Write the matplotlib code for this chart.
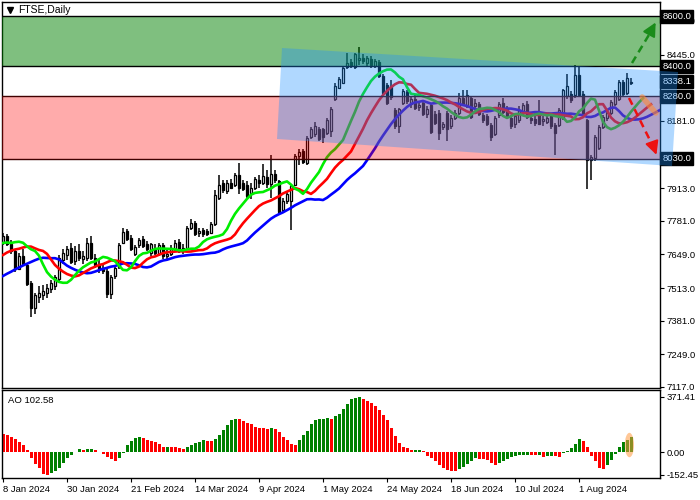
import matplotlib
matplotlib.use("Agg")
import matplotlib.pyplot as plt
import matplotlib.transforms as mtransforms
from matplotlib.patches import Polygon, Ellipse
import numpy as np

plt.rcParams["font.family"] = ["Liberation Sans", "DejaVu Sans"]

# FTSE daily candles, 8 Jan 2024 .. 20 Aug 2024
opens = [
    7695, 7722, 7690, 7660, 7590, 7640, 7605, 7532, 7435, 7478,
    7485, 7495, 7508, 7520, 7550, 7625, 7645, 7672, 7620, 7662,
    7628, 7635, 7695, 7635, 7605, 7595, 7580, 7490, 7560, 7597,
    7695, 7742, 7712, 7648, 7684, 7708, 7690, 7652, 7668, 7650,
    7685, 7640, 7650, 7668, 7698, 7662, 7675, 7752, 7775, 7735,
    7745, 7740, 7735, 7770, 7875, 7932, 7900, 7935, 7925, 7965,
    7932, 7925, 7895, 7915, 7945, 7935, 7958, 7930, 7968, 7940,
    7825, 7862, 7860, 7925, 8040, 8062, 8015, 8118, 8128, 8150,
    8148, 8135, 8140, 8268, 8315, 8335, 8398, 8418, 8398, 8425,
    8432, 8415, 8428, 8402, 8418, 8362, 8325, 8320, 8225, 8160,
    8255, 8298, 8250, 8268, 8238, 8255, 8210, 8245, 8210, 8215,
    8158, 8212, 8160, 8195, 8215, 8272, 8245, 8275, 8240, 8250,
    8205, 8200, 8165, 8130, 8205, 8255, 8232, 8195, 8168, 8185,
    8215, 8250, 8195, 8190, 8210, 8180, 8178, 8202, 8165, 8165,
    8195, 8280, 8290, 8285, 8365, 8290, 8185, 8025, 8035, 8075,
    8158, 8195, 8215, 8248, 8268, 8338, 8295, 8335,
]
highs = [
    7735, 7730, 7705, 7668, 7655, 7668, 7612, 7540, 7495, 7520,
    7525, 7530, 7545, 7565, 7645, 7668, 7680, 7692, 7682, 7690,
    7660, 7712, 7722, 7650, 7625, 7610, 7590, 7565, 7605, 7692,
    7752, 7750, 7725, 7685, 7715, 7722, 7700, 7695, 7690, 7695,
    7692, 7668, 7685, 7705, 7710, 7690, 7760, 7790, 7782, 7755,
    7752, 7750, 7778, 7905, 7965, 7945, 7945, 7948, 7972, 8015,
    7945, 7940, 7935, 7958, 7965, 8010, 7985, 8045, 7985, 7945,
    7875, 7898, 7930, 8048, 8068, 8070, 8120, 8158, 8178, 8158,
    8155, 8195, 8238, 8332, 8358, 8398, 8452, 8430, 8455, 8478,
    8448, 8440, 8440, 8430, 8425, 8370, 8335, 8345, 8232, 8235,
    8310, 8305, 8280, 8285, 8262, 8265, 8240, 8250, 8222, 8225,
    8178, 8220, 8205, 8225, 8292, 8305, 8305, 8282, 8268, 8258,
    8215, 8210, 8175, 8200, 8258, 8275, 8240, 8205, 8210, 8240,
    8255, 8262, 8215, 8218, 8265, 8200, 8205, 8212, 8175, 8232,
    8310, 8368, 8300, 8405, 8402, 8300, 8190, 8045, 8125, 8165,
    8205, 8225, 8265, 8305, 8345, 8345, 8375, 8352,
]
lows = [
    7685, 7680, 7650, 7578, 7585, 7600, 7522, 7398, 7410, 7455,
    7465, 7475, 7495, 7505, 7540, 7610, 7625, 7610, 7605, 7620,
    7608, 7620, 7625, 7595, 7575, 7568, 7475, 7470, 7550, 7590,
    7688, 7700, 7660, 7640, 7675, 7672, 7660, 7640, 7645, 7640,
    7630, 7628, 7642, 7660, 7652, 7650, 7670, 7745, 7722, 7718,
    7718, 7722, 7728, 7760, 7865, 7895, 7890, 7908, 7918, 7890,
    7900, 7870, 7870, 7905, 7915, 7925, 7915, 7875, 7935, 7805,
    7815, 7848, 7745, 7920, 8005, 8010, 8005, 8110, 8118, 8100,
    8092, 8125, 8118, 8262, 8308, 8328, 8390, 8395, 8390, 8405,
    8408, 8400, 8395, 8395, 8355, 8285, 8245, 8265, 8150, 8135,
    8245, 8250, 8235, 8225, 8220, 8200, 8195, 8130, 8165, 8105,
    8145, 8100, 8150, 8185, 8205, 8240, 8235, 8190, 8225, 8200,
    8175, 8160, 8100, 8122, 8195, 8210, 8190, 8150, 8155, 8175,
    8205, 8190, 8170, 8160, 8165, 8162, 8170, 8150, 8045, 8158,
    8185, 8270, 8255, 8275, 8280, 8200, 7910, 7945, 8020, 8065,
    8150, 8180, 8205, 8240, 8260, 8280, 8285, 8325,
]
closes = [
    7722, 7690, 7660, 7588, 7640, 7610, 7530, 7435, 7485, 7492,
    7503, 7512, 7532, 7556, 7632, 7652, 7668, 7618, 7662, 7632,
    7642, 7692, 7635, 7605, 7590, 7582, 7490, 7558, 7595, 7685,
    7738, 7708, 7668, 7678, 7706, 7680, 7668, 7688, 7655, 7685,
    7640, 7650, 7675, 7695, 7660, 7672, 7752, 7775, 7730, 7740,
    7728, 7730, 7770, 7885, 7925, 7905, 7932, 7915, 7965, 7912,
    7910, 7880, 7915, 7948, 7935, 7962, 7930, 7968, 7945, 7818,
    7862, 7890, 7922, 8040, 8058, 8018, 8112, 8150, 8162, 8108,
    8118, 8185, 8228, 8322, 8350, 8392, 8412, 8400, 8448, 8435,
    8420, 8432, 8405, 8420, 8362, 8295, 8255, 8278, 8160, 8228,
    8302, 8262, 8270, 8235, 8245, 8210, 8230, 8138, 8175, 8135,
    8170, 8150, 8195, 8215, 8272, 8250, 8285, 8198, 8255, 8210,
    8185, 8170, 8118, 8195, 8250, 8218, 8200, 8160, 8200, 8225,
    8245, 8198, 8185, 8175, 8170, 8190, 8195, 8160, 8135, 8225,
    8305, 8320, 8265, 8365, 8285, 8210, 8025, 8038, 8118, 8158,
    8198, 8212, 8258, 8298, 8338, 8288, 8355, 8338.1,
]

# Alligator lines before the first candle's data takes effect
jaw_head = [7561, 7570, 7578, 7587, 7595, 7603, 7610, 7617]
teeth_head = [7645, 7655, 7662, 7667, 7670]
lips_head = [7693, 7695, 7693]

# Awesome Oscillator histogram
ao_values = [
    123, 112, 101, 85, 69, 47, 13, -38, -83, -110,
    -146, -152.45, -139, -128, -105, -76, -43, -20, 2, 18,
    13, 18, 20, 13, 2, -11, -34, -49, -60, -38,
    -9, 47, 74, 92, 101, 92, 83, 74, 65, 52,
    32, 36, 34, 31, 25, 18, 34, 45, 58, 67,
    80, 77, 73, 85, 112, 146, 181, 213, 226, 224,
    208, 197, 186, 172, 164, 159, 157, 160, 158, 134,
    103, 78, 52, 47, 78, 112, 141, 186, 213, 220,
    222, 228, 225, 244, 258, 293, 325, 355, 365, 371.41,
    360, 345, 330, 308, 286, 251, 214, 164, 111, 61,
    35, 28, 11, 13, 15, 4, -26, -42, -63, -85,
    -107, -120, -125, -126, -116, -103, -81, -63, -42, -48,
    -50, -55, -72, -85, -76, -59, -48, -37, -28, -22,
    -20, -17, -22, -23, -17, -31, -28, -26, -30, -37,
    -9, 7, 24, 55, 90, 76, 33, -26, -63, -107,
    -114, -85, -55, -15, 37, 66, 83, 102.58,
]

date_labels = ["8 Jan 2024", "30 Jan 2024", "21 Feb 2024", "14 Mar 2024", "9 Apr 2024",
               "1 May 2024", "24 May 2024", "18 Jun 2024", "10 Jul 2024", "1 Aug 2024"]
# 8045 and 8313 sit fully under the level boxes in the original, so they are left out
price_ticks = [7117, 7249, 7381, 7513, 7649, 7781, 7913, 8181, 8445, 8581]
level_labels = [8600.0, 8400.0, 8338.1, 8280.0, 8030.0]


def smma(values, period, seed):
    out = []
    prev = seed
    for v in values:
        prev = (prev * (period - 1) + v) / period
        out.append(prev)
    return np.array(out)


o = np.array(opens, dtype=float)
h = np.array(highs, dtype=float)
l = np.array(lows, dtype=float)
c = np.array(closes, dtype=float)
n = len(c)
x = np.arange(n)
median = (h + l) / 2

jaw = np.concatenate([jaw_head, smma(median, 13, jaw_head[-1])])
teeth = np.concatenate([teeth_head, smma(median, 8, teeth_head[-1])])
lips = np.concatenate([lips_head, smma(median, 5, lips_head[-1])])

fig = plt.figure(figsize=(7, 5), dpi=100)
ax = fig.add_axes([2 / 700, 112 / 500, 658 / 700, 386 / 500])
ax2 = fig.add_axes([2 / 700, 22 / 500, 658 / 700, 88 / 500])

xmin, xmax = -0.25, 164.25

# candles
up = c >= o
ax.vlines(x, l, h, color="black", lw=1.1, zorder=2)
body_lo = np.minimum(o, c)
body_h = np.maximum(np.abs(c - o), 2)
ax.bar(x, body_h, bottom=body_lo, width=0.72,
       color=np.where(up, "white", "black"), edgecolor="black", lw=0.9, zorder=2.1)

# alligator
ax.plot(np.arange(len(jaw)), jaw, color="#0000ff", lw=1.9, zorder=3)
ax.plot(np.arange(len(teeth)), teeth, color="#ff0000", lw=1.9, zorder=3.1)
ax.plot(np.arange(len(lips)), lips, color="#00ee00", lw=1.9, zorder=3.2)

# zones
ax.axhspan(8400, 8600, color="#008000", alpha=0.5, lw=0, zorder=4)
ax.axhspan(8030, 8280, color="#ff0000", alpha=0.33, lw=0, zorder=4)
for lvl, col in [(8600, "black"), (8400, "black"), (8280, "#400000"), (8030, "#400000")]:
    ax.axhline(lvl, color=col, lw=1, zorder=5)

# price labels on the right
blend = mtransforms.blended_transform_factory(ax.transAxes, ax.transData)
for lvl in level_labels:
    ax.text(1.0035, lvl, f"{lvl:.1f}", transform=blend, ha="left", va="center",
            color="white", fontsize=6.8, zorder=6, clip_on=False,
            bbox=dict(boxstyle="square,pad=0.2", fc="black", ec="black"))

# channel (extends over the price scale)
channel = Polygon([(69.75, 8473), (168.75, 8377), (167.25, 8001), (68.5, 8109)],
                  closed=True, fc="#1e90ff", alpha=0.35, lw=0, zorder=7, clip_on=False)
ax.add_patch(channel)

# forecast arrows
ax.plot([157.25, 162.6], [8413, 8555], ls=(0, (3, 2)), color="#1a8c1a", lw=1.8, zorder=8)
ax.annotate("", xy=(163.5, 8585), xytext=(162.3, 8550), zorder=8,
            arrowprops=dict(arrowstyle="-|>,head_length=0.8,head_width=0.4", color="#1a8c1a", lw=1.5))
ax.plot([156.5, 162.8], [8273, 8070], ls=(0, (3, 2)), color="#ee1111", lw=1.8, zorder=8)
ax.annotate("", xy=(163.6, 8035), xytext=(162.6, 8080), zorder=8,
            arrowprops=dict(arrowstyle="-|>,head_length=0.8,head_width=0.4", color="#ee1111", lw=1.5))
ax.plot([159.8, 163.2], [8277, 8213], color="#ff8c3a", lw=4, alpha=0.6,
        solid_capstyle="round", zorder=8)

ax.set_xlim(xmin, xmax)
ax.set_ylim(7113, 8657)
ax.set_xticks([])
ax.yaxis.tick_right()
ax.set_yticks(price_ticks)
ax.set_yticklabels([f"{t:.1f}" for t in price_ticks])
ax.tick_params(axis="y", length=3, width=0.8, pad=2, labelsize=6.8, colors="black")
for s in ax.spines.values():
    s.set_linewidth(1.0)

ax.plot([0.012], [0.978], marker="v", color="black", ms=4.5, transform=ax.transAxes,
        clip_on=False, zorder=9)
ax.text(0.025, 0.978, "FTSE,Daily", transform=ax.transAxes, ha="left", va="center",
        fontsize=7.5, zorder=9)

# AO panel
ao = np.array(ao_values)
ao_colors = ["#ff0000"] + ["#008000" if d > 0 else "#ff0000" for d in np.diff(ao)]
ax2.bar(np.arange(len(ao)), ao, width=0.75, color=ao_colors, lw=0)
ax2.add_patch(Ellipse((156.6, 47), 2.3, 165, fc="#ff9a40", alpha=0.55, lw=0, zorder=3))
ax2.set_xlim(xmin, xmax)
ax2.set_ylim(-175.5, 418.5)
ax2.yaxis.tick_right()
ax2.set_yticks([-152.45, 0, 371.41])
ax2.set_yticklabels(["-152.45", "0.00", "371.41"])
ax2.tick_params(axis="y", length=3, width=0.8, pad=2, labelsize=6.8)
tick_pos = np.arange(len(date_labels)) * 16
ax2.set_xticks(tick_pos)
ax2.set_xticklabels(date_labels, ha="left")
ax2.tick_params(axis="x", length=3, width=0.8, pad=2, labelsize=6.8)
ax2.text(0.009, 0.88, "AO 102.58", transform=ax2.transAxes, ha="left", va="center",
         fontsize=6.8)
for s in ax2.spines.values():
    s.set_linewidth(1.0)

fig.savefig("out.png", dpi=100)
